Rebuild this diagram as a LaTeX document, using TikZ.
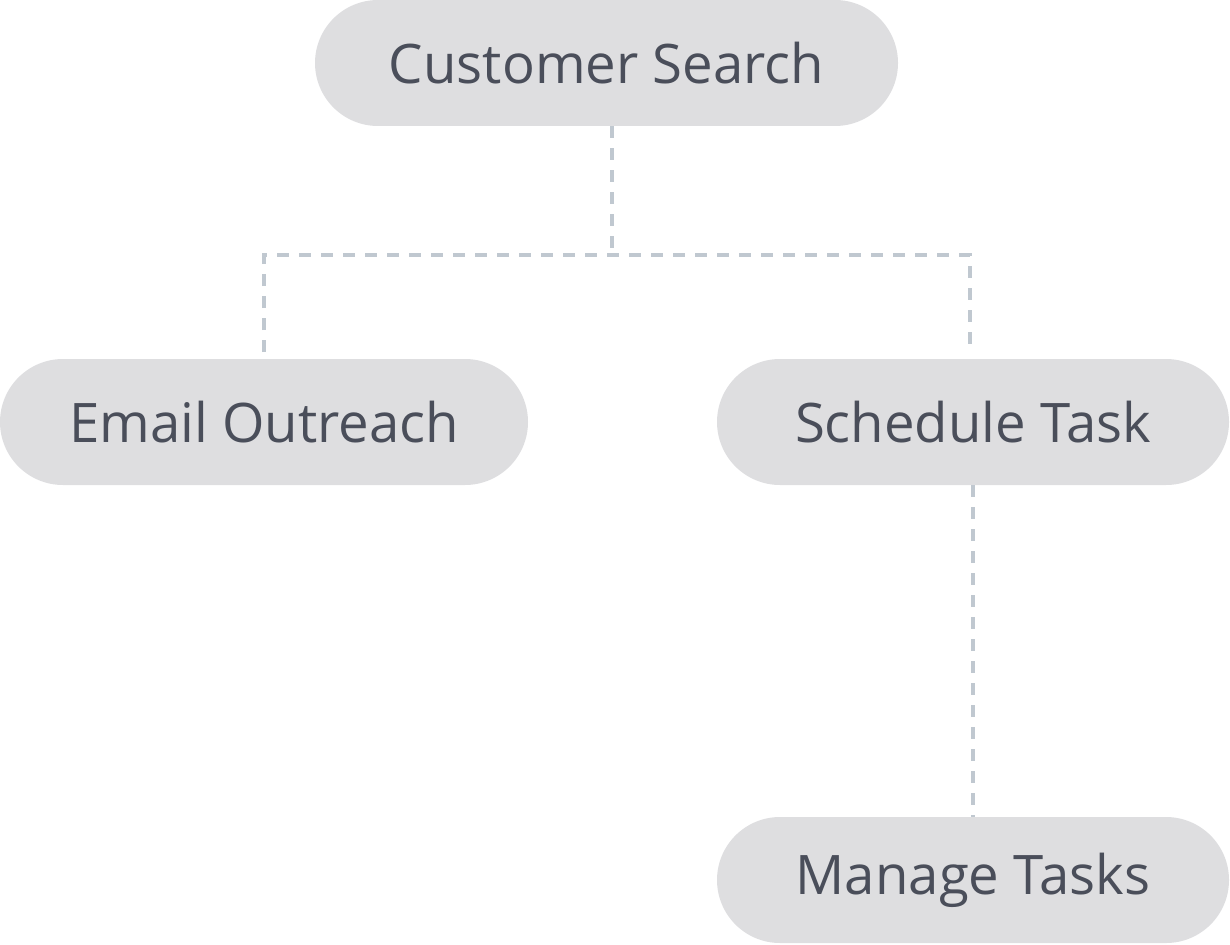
\documentclass[tikz,border=0pt]{standalone}
\usepackage{fontspec}
\setmainfont{Open Sans}
\definecolor{pillfill}{HTML}{DEDEE0}
\definecolor{pilltext}{HTML}{4A4E5A}
\definecolor{linkcol}{HTML}{C0C8D0}
\begin{document}
\begin{tikzpicture}[x=1pt,y=-1pt,
  pill/.style={fill=pillfill, rounded corners=63pt, minimum height=126pt, text=pilltext,
    font=\fontsize{54.5}{56}\selectfont, inner sep=0pt},
  link/.style={draw=linkcol, line width=4pt, dash pattern=on 12pt off 10pt}]
\useasboundingbox (0,0) rectangle (1230,944);
\node[pill, minimum width=583pt] (cs) at (606.5,63) {\raisebox{-2pt}{Customer Search}};
\node[pill, minimum width=528pt] (eo) at (264,422) {\raisebox{-2pt}{Email Outreach}};
\node[pill, minimum width=512pt] (st) at (973,422) {\raisebox{-2pt}{Schedule Task}};
\node[pill, minimum width=512pt] (mt) at (973,880) {\raisebox{-2pt}{Manage Tasks}};
\coordinate (j) at (612,255);
\coordinate (jl) at (264,255);
\coordinate (jr) at (970,255);
\coordinate (el) at (264,352);
\coordinate (er) at (970,352);
\draw[link] (cs.south -| j) -- (j);
\draw[link] (el) -- (jl) -- (jr) -- (er);
\draw[link] (st.south) -- (mt.north);
\end{tikzpicture}
\end{document}
